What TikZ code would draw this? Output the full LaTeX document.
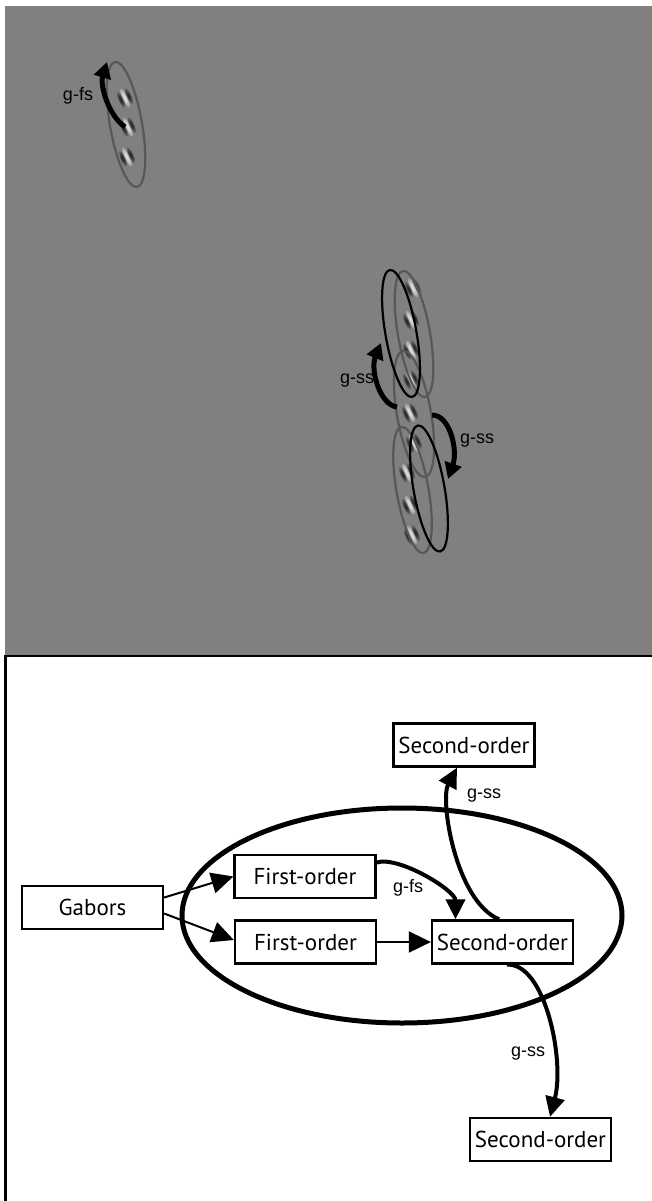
\documentclass[tikz,border=0pt]{standalone}
\usepackage{fontspec}
\usetikzlibrary{arrows.meta}
\newfontfamily\boxfont{PT Sans}
\newfontfamily\labelfont{Liberation Sans}
\definecolor{panelgray}{RGB}{128,128,128}
\definecolor{ringgray}{RGB}{88,88,88}
\begin{document}
\begin{tikzpicture}[x=1pt,y=-1pt,
  boxnode/.style={draw, line width=2.3pt, inner sep=0pt, minimum width=141pt,
    minimum height=43pt, font=\boxfont\fontsize{23}{27}\selectfont},
  tag/.style={inner sep=0pt, font=\labelfont\fontsize{18}{21}\selectfont},
  straightarrow/.style={line width=2pt, -{Triangle[length=22pt,width=21pt]}},
  curvearrow/.style={line width=4pt, -{Triangle[length=20pt,width=19pt]}},
  stimarrow/.style={line width=5pt, -{Triangle[length=16pt,width=17pt]}},
  patchring/.style={line width=2.2pt},
  bigloop/.style={line width=5pt},
  gaborpatch/.pic={
    \foreach \k in {1,2,3,4}{
      \fill[white, opacity=0.27] (0,0) ellipse ({0.5+0.55*\k} and {1.8+2.1*\k});
      \fill[black, opacity=0.23] (4.3,0) ellipse ({0.45+0.5*\k} and {1.2+1.8*\k});
      \fill[black, opacity=0.23] (-4.3,0) ellipse ({0.45+0.5*\k} and {1.2+1.8*\k});
    }
  }]
\useasboundingbox (0,0) rectangle (652,1201);
\fill[white] (0,0) rectangle (652,1201);

% ---------- stimulus panel ----------
\fill[panelgray] (5,6) rectangle (652,655);

% gabor patches
\foreach \px/\py in {125/98, 128/127, 127/157,
    413/288, 411/320, 411/350, 411/380, 410/413, 414/443, 407/473, 410/505, 412/535}
  \pic[rotate=25] at (\px,\py) {gaborpatch};

% grouping ellipses
\draw[ringgray, patchring, rotate around={10:(126,124.5)}] (126,124.5) ellipse (16 and 63.5);
\draw[ringgray, patchring, rotate around={10:(414,334)}] (414,334) ellipse (16 and 64);
\draw[ringgray, patchring, rotate around={10:(414,414)}] (414,414) ellipse (17 and 64);
\draw[ringgray, patchring, rotate around={10:(412.5,490)}] (412.5,490) ellipse (16 and 64);
\draw[black, patchring, rotate around={10:(401,333.5)}] (401,333.5) ellipse (15.5 and 64.5);
\draw[black, patchring, rotate around={10:(429,488.5)}] (429,488.5) ellipse (15.5 and 64);

% grouping transitions
\coordinate (fsStart) at (125,127);
\coordinate (fsEnd) at (107,62);
\coordinate (ssUpStart) at (397,407);
\coordinate (ssUpEnd) at (381,343);
\coordinate (ssDownStart) at (432,415);
\coordinate (ssDownEnd) at (448,479);
\draw[stimarrow] (fsStart) .. controls (108,115) and (100,85) .. (fsEnd);
\draw[stimarrow] (ssUpStart) .. controls (380,405) and (370,370) .. (ssUpEnd);
\draw[stimarrow] (ssDownStart) .. controls (450,415) and (458,450) .. (ssDownEnd);
\node[tag] (tfs) at (78,96) {g-fs};
\node[tag] (tssl) at (357,381) {g-ss};
\node[tag] (tssr) at (477,441) {g-ss};

% ---------- model panel ----------
\draw[line width=2.5pt] (5.5,1201) -- (5.5,656) -- (652,656);

\draw[bigloop] (402,915.5) ellipse (220 and 107.5);

\node[boxnode] (gabors) at (92.5,907.5) {Gabors};
\node[boxnode] (fo1) at (305,876.5) {First-order};
\node[boxnode] (fo2) at (305.5,942) {First-order};
\node[boxnode] (so) at (502.5,942) {Second-order};
\node[boxnode] (sotop) at (464,745) {Second-order};
\node[boxnode] (sobot) at (540.5,1139.5) {Second-order};

\draw[straightarrow] ([yshift=10pt]gabors.east) -- (fo1.west);
\draw[straightarrow] ([yshift=-6pt]gabors.east) -- ([yshift=2pt]fo2.west);
\draw[straightarrow] (fo2.east) -- (so.west);

\draw[curvearrow] ([yshift=14pt]fo1.east) .. controls +(22,-7) and +(0,-29) .. ([xshift=-47pt]so.north);
\draw[curvearrow] ([xshift=-3.5pt]so.north) .. controls +(-44,-19) and +(-17,32) .. ([xshift=-7pt]sotop.south);
\draw[curvearrow] ([xshift=4.5pt]so.south) .. controls +(38,-2) and +(15,-57) .. ([xshift=9.5pt]sobot.north);

\node[tag] (lfs) at (408,888) {g-fs};
\node[tag] (lssu) at (484,796) {g-ss};
\node[tag] (lssd) at (528,1054) {g-ss};
\end{tikzpicture}
\end{document}
